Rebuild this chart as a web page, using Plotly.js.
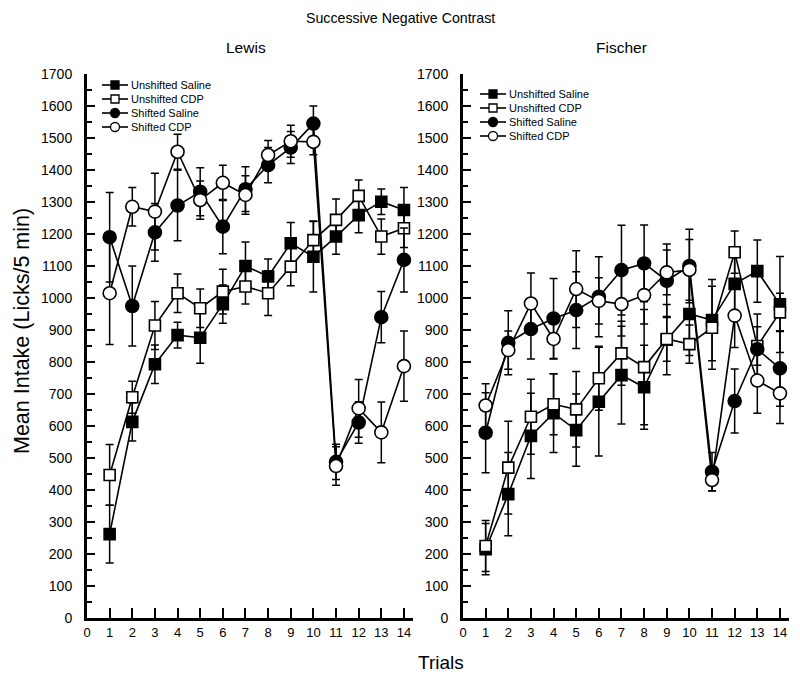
<!DOCTYPE html>
<html>
<head>
<meta charset="utf-8">
<script src="https://cdn.plot.ly/plotly-3.0.1.min.js"></script>
<style>
  html, body { margin: 0; padding: 0; background: #fff; }
  #chart { width: 800px; height: 682px; }
</style>
</head>
<body>
<div id="chart"></div>
<script>
// --- DATA ---
const trials = [1, 2, 3, 4, 5, 6, 7, 8, 9, 10, 11, 12, 13, 14];
const seriesNames = ['Unshifted Saline', 'Unshifted CDP', 'Shifted Saline', 'Shifted CDP'];

// Lewis
const lewisUnshiftedSaline = [262, 613, 793, 884, 876, 981, 1100, 1067, 1171, 1129, 1192, 1259, 1301, 1275];
const lewisUnshiftedSalineErr = [90, 60, 60, 40, 80, 60, 75, 55, 65, 110, 55, 55, 40, 70];
const lewisUnshiftedCdp = [447, 690, 914, 1015, 968, 1020, 1036, 1015, 1098, 1181, 1244, 1319, 1192, 1218];
const lewisUnshiftedCdpErr = [95, 50, 75, 60, 60, 70, 55, 70, 60, 60, 65, 50, 55, 60];
const lewisShiftedSaline = [1190, 975, 1205, 1289, 1332, 1223, 1340, 1415, 1470, 1545, 488, 611, 940, 1119];
const lewisShiftedSalineErr = [140, 125, 90, 110, 75, 85, 70, 55, 50, 55, 55, 65, 80, 100];
const lewisShiftedCdp = [1015, 1285, 1270, 1457, 1306, 1360, 1322, 1447, 1490, 1488, 475, 655, 580, 787];
const lewisShiftedCdpErr = [160, 60, 120, 55, 60, 55, 60, 45, 50, 40, 60, 90, 95, 110];

// Fischer
const fischerUnshiftedSaline = [215, 387, 569, 640, 587, 676, 759, 721, 870, 950, 931, 1044, 1084, 980];
const fischerUnshiftedSalineErr = [80, 130, 133, 123, 113, 170, 153, 131, 110, 130, 127, 110, 97, 150];
const fischerUnshiftedCdp = [225, 470, 629, 668, 652, 749, 827, 784, 872, 856, 907, 1143, 850, 955];
const fischerUnshiftedCdpErr = [80, 145, 117, 95, 118, 100, 100, 180, 70, 60, 130, 66, 60, 60];
const fischerShiftedSaline = [579, 860, 903, 936, 962, 1004, 1087, 1108, 1054, 1100, 457, 678, 840, 780];
const fischerShiftedSalineErr = [125, 100, 94, 125, 120, 125, 140, 120, 115, 115, 60, 100, 110, 118];
const fischerShiftedCdp = [664, 837, 983, 872, 1028, 991, 981, 1009, 1080, 1088, 431, 945, 742, 702];
const fischerShiftedCdpErr = [68, 60, 95, 63, 120, 72, 100, 90, 70, 95, 33, 100, 102, 94];

const xTicks = [0, 1, 2, 3, 4, 5, 6, 7, 8, 9, 10, 11, 12, 13, 14];

// --- STYLE ---
const FONT = 'Liberation Sans, Arial, sans-serif';
const markerStyles = [
    { symbol: 'square', shape: 'rect', size: 11, color: '#000' },
    { symbol: 'square', shape: 'rect', size: 11, color: '#fff' },
    { symbol: 'circle', shape: 'circle', size: 13, color: '#000' },
    { symbol: 'circle', shape: 'circle', size: 13, color: '#fff' }
];

// plot area in pixels (used to place legends / labels in paper coords)
const M = { l: 87, r: 11, t: 74, b: 64 };
const plotW = 800 - M.l - M.r;
const plotH = 682 - M.t - M.b;
const px = x => (x - M.l) / plotW;
const py = y => (682 - M.b - y) / plotH;

function makeTrace(y, err, i, axis) {
    return {
        x: trials,
        y: y,
        name: seriesNames[i],
        type: 'scatter',
        mode: 'lines+markers',
        xaxis: 'x' + axis,
        yaxis: 'y' + axis,
        line: { color: '#000', width: 1.6 },
        marker: {
            symbol: markerStyles[i].symbol,
            size: markerStyles[i].size,
            color: markerStyles[i].color,
            line: { color: '#000', width: 1.6 }
        },
        error_y: { type: 'data', array: err, visible: true, color: '#000', thickness: 1.5, width: 4 }
    };
}

const traces = [
    makeTrace(lewisUnshiftedSaline, lewisUnshiftedSalineErr, 0, ''),
    makeTrace(lewisUnshiftedCdp, lewisUnshiftedCdpErr, 1, ''),
    makeTrace(lewisShiftedSaline, lewisShiftedSalineErr, 2, ''),
    makeTrace(lewisShiftedCdp, lewisShiftedCdpErr, 3, ''),
    makeTrace(fischerUnshiftedSaline, fischerUnshiftedSalineErr, 0, '2'),
    makeTrace(fischerUnshiftedCdp, fischerUnshiftedCdpErr, 1, '2'),
    makeTrace(fischerShiftedSaline, fischerShiftedSalineErr, 2, '2'),
    makeTrace(fischerShiftedCdp, fischerShiftedCdpErr, 3, '2')
];

function xAxis(domain, anchor) {
    return {
        domain: domain, anchor: anchor, range: [0, 14.4],
        tickvals: xTicks, ticktext: xTicks.map(String),
        ticks: 'inside', ticklen: 10, tickwidth: 2, tickcolor: '#000',
        showline: true, linewidth: 3, linecolor: '#000',
        showgrid: false, zeroline: false,
        tickfont: { family: FONT, size: 13, color: '#000' }
    };
}

function yAxis(anchor) {
    return {
        anchor: anchor, range: [0, 1700], dtick: 100,
        ticks: 'inside', ticklen: 8, tickwidth: 2, tickcolor: '#000',
        minor: { dtick: 50, ticks: 'inside', ticklen: 5, tickwidth: 2, tickcolor: '#000' },
        showline: true, linewidth: 3, linecolor: '#000',
        showgrid: false, zeroline: false, ticklabelstandoff: 9,
        tickfont: { family: FONT, size: 14, color: '#000' }
    };
}

// compact legends (rows 14px apart, as in the figure)
const shapes = [];
const annotations = [];
function addLegend(left, top) {
    seriesNames.forEach((name, i) => {
        const rowY = py(top + 14 * i);
        shapes.push({
            type: 'line', xref: 'paper', yref: 'paper',
            x0: px(left), x1: px(left + 26), y0: rowY, y1: rowY,
            line: { color: '#000', width: 1.6 }
        });
        const half = markerStyles[i].shape === 'rect' ? 4 : 4.5;
        shapes.push({
            type: markerStyles[i].shape, xref: 'paper', yref: 'paper',
            xsizemode: 'pixel', ysizemode: 'pixel',
            xanchor: px(left + 13), yanchor: rowY,
            x0: -half, x1: half, y0: -half, y1: half,
            fillcolor: markerStyles[i].color, line: { color: '#000', width: 1.3 }
        });
        annotations.push({
            text: name, xref: 'paper', yref: 'paper', x: px(left + 27), y: rowY,
            xanchor: 'left', yanchor: 'middle', showarrow: false,
            font: { family: FONT, size: 11, color: '#000' }
        });
    });
}
addLegend(102, 85);
addLegend(480, 94);

annotations.push(
    { text: 'Successive Negative Contrast', xref: 'paper', yref: 'paper', x: px(400), y: py(18),
      xanchor: 'center', yanchor: 'middle', showarrow: false, font: { family: FONT, size: 14.2, color: '#000' } },
    { text: 'Lewis', xref: 'paper', yref: 'paper', x: px(246), y: py(47),
      xanchor: 'center', yanchor: 'middle', showarrow: false, font: { family: FONT, size: 15.5, color: '#000' } },
    { text: 'Fischer', xref: 'paper', yref: 'paper', x: px(621), y: py(47),
      xanchor: 'center', yanchor: 'middle', showarrow: false, font: { family: FONT, size: 15.5, color: '#000' } },
    { text: 'Trials', xref: 'paper', yref: 'paper', x: px(441), y: py(662),
      xanchor: 'center', yanchor: 'middle', showarrow: false, font: { family: FONT, size: 19, color: '#000' } },
    { text: 'Mean Intake (Licks/5 min)', xref: 'paper', yref: 'paper', x: px(22), y: py(331), textangle: -90,
      xanchor: 'center', yanchor: 'middle', showarrow: false, font: { family: FONT, size: 21.5, color: '#000' } }
);

const layout = {
    width: 800, height: 682,
    margin: M,
    paper_bgcolor: '#fff', plot_bgcolor: '#fff',
    showlegend: false,
    xaxis: xAxis([0, px(413)], 'y'),
    yaxis: yAxis('x'),
    xaxis2: xAxis([px(463), 1], 'y2'),
    yaxis2: yAxis('x2'),
    shapes: shapes,
    annotations: annotations
};

Plotly.newPlot('chart', traces, layout, { displayModeBar: false, staticPlot: true });
</script>
</body>
</html>
